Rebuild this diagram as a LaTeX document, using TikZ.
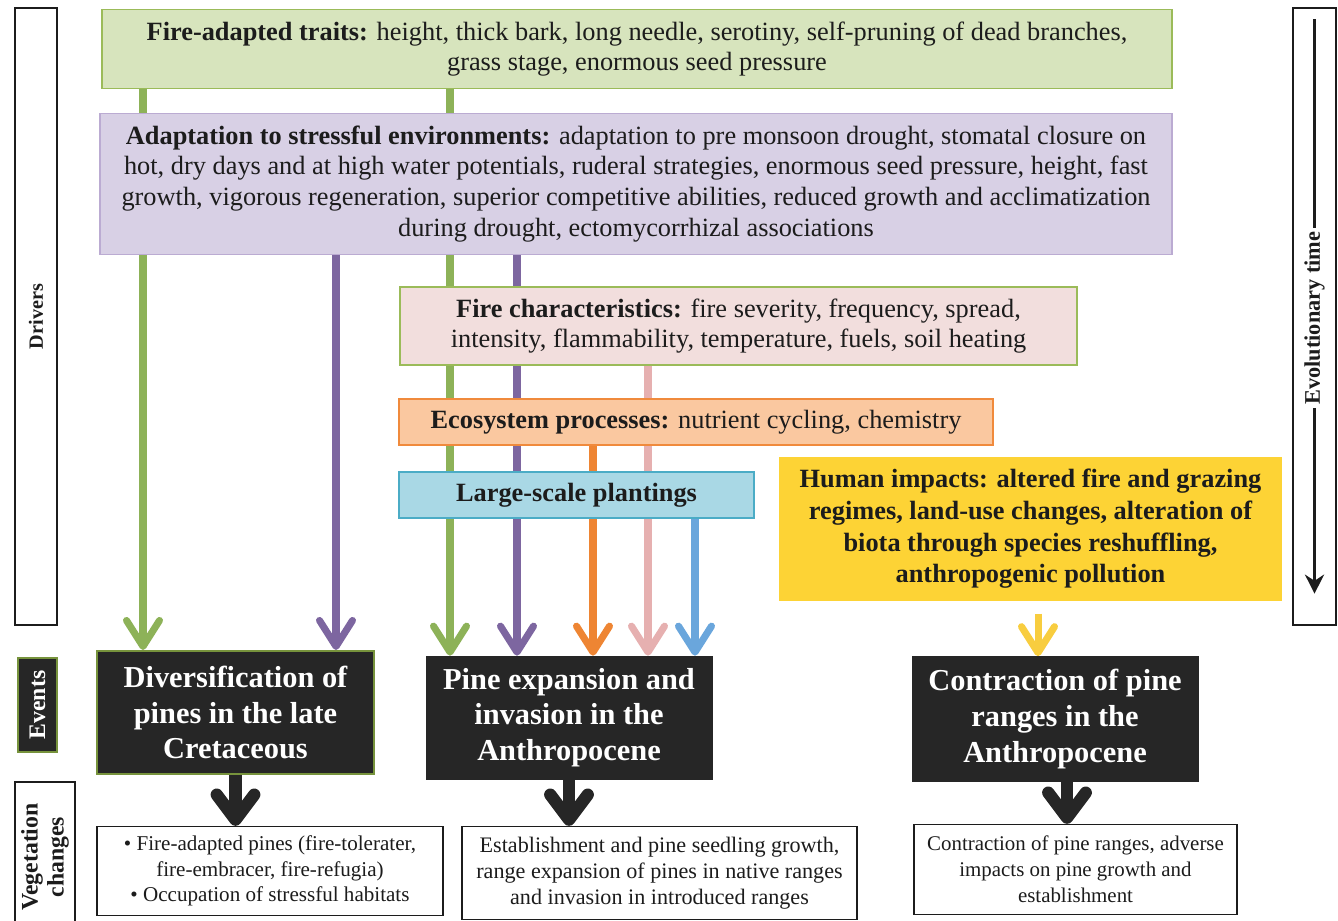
\documentclass[tikz,border=0pt]{standalone}
\usepackage{fontspec}
\setmainfont{Liberation Serif}
\usetikzlibrary{arrows.meta,backgrounds}

% colours
\definecolor{txtdark}{HTML}{1C1C1C}
\definecolor{evdark}{HTML}{262626}
\definecolor{evgreen}{HTML}{77933C}
\definecolor{fatfill}{HTML}{D7E4BD}
\definecolor{fatline}{HTML}{9BBB59}
\definecolor{adfill}{HTML}{D8D0E5}
\definecolor{adline}{HTML}{BBABD2}
\definecolor{fcfill}{HTML}{F2DEDD}
\definecolor{ecofill}{HTML}{FAC8A0}
\definecolor{ecoline}{HTML}{F08A3C}
\definecolor{plfill}{HTML}{A9D8E5}
\definecolor{plline}{HTML}{4BACC6}
\definecolor{humfill}{HTML}{FDD335}
\definecolor{garr}{HTML}{8DB258}
\definecolor{parr}{HTML}{7D66A0}
\definecolor{oarr}{HTML}{EE8533}
\definecolor{pkarr}{HTML}{E6B0B0}
\definecolor{barr}{HTML}{6AA6DC}
\definecolor{yarr}{HTML}{F8CD3F}

\begin{document}
\begin{tikzpicture}[x=0.02cm,y=-0.02cm,
  driver/.style={draw, line width=0.8pt, align=center, inner sep=0pt, text=txtdark,
    font=\fontsize{15}{17}\selectfont},
  event/.style={draw=evdark, fill=evdark, align=center, inner sep=0pt, text=white,
    font=\bfseries\fontsize{17.3}{20.3}\selectfont},
  veg/.style={draw=txtdark, line width=0.8pt, fill=white, align=center, inner sep=0pt,
    text=txtdark, font=\fontsize{12.6}{14.8}\selectfont},
  sidebox/.style={draw=txtdark, line width=0.8pt, rotate=90, align=center, inner sep=0pt,
    text=txtdark, font=\bfseries\fontsize{11.5}{13.5}\selectfont},
  colarrow/.style={line width=4pt, -{Straight Barb[length=0.52cm,width=0.66cm,round]}},
  blkarrow/.style={line width=7pt, evdark, -{Straight Barb[length=0.5cm,width=0.75cm,round]}}]
  \useasboundingbox (0,0) rectangle (1338,920);

  % side labels
  \node[sidebox, minimum width=12.34cm, minimum height=0.84cm] (drivers) at (36,316.5) {Drivers};
  \node[sidebox, draw=evgreen, fill=evdark, text=white, line width=1.2pt,
    minimum width=1.88cm, minimum height=0.78cm, font=\bfseries\fontsize{13.5}{15}\selectfont]
    (events) at (37.5,705) {Events};
  \node[sidebox, minimum width=3cm, minimum height=1.2cm, font=\bfseries\fontsize{13.5}{14.7}\selectfont]
    (vegch) at (45,857) {Vegetation\\ changes};
  \node[sidebox, minimum width=12.34cm, minimum height=0.86cm] (evobox) at (1314.5,316.5) {};

  % drivers
  \node[driver, draw=fatline, fill=fatfill, minimum width=21.4cm, minimum height=1.58cm] (fat) at (637,49)
    {\textbf{Fire-adapted traits:} height, thick bark, long needle, serotiny, self-pruning of dead branches,\\
     grass stage, enormous seed pressure};
  \node[driver, draw=adline, fill=adfill, minimum width=21.44cm, minimum height=2.82cm,
    font=\fontsize{15}{17.6}\selectfont] (adapt) at (636,184)
    {\textbf{Adaptation to stressful environments:} adaptation to pre monsoon drought, stomatal closure on\\
     hot, dry days and at high water potentials, ruderal strategies, enormous seed pressure, height, fast\\
     growth, vigorous regeneration, superior competitive abilities, reduced growth and acclimatization\\
     during drought, ectomycorrhizal associations};
  \node[driver, draw=fatline, fill=fcfill, minimum width=13.54cm, minimum height=1.56cm] (firec) at (738.5,326)
    {\textbf{Fire characteristics:} fire severity, frequency, spread,\\
     intensity, flammability, temperature, fuels, soil heating};
  \node[driver, draw=ecoline, fill=ecofill, minimum width=11.88cm, minimum height=0.92cm] (eco) at (696,422)
    {\textbf{Ecosystem processes:} nutrient cycling, chemistry};
  \node[driver, draw=plline, fill=plfill, minimum width=7.1cm, minimum height=0.92cm] (plant) at (576.5,495)
    {\textbf{Large-scale plantings}};
  \node[driver, draw=none, fill=humfill, minimum width=10.06cm, minimum height=2.88cm,
    font=\bfseries\fontsize{15}{18}\selectfont] (human) at (1030.5,529)
    {Human impacts: altered fire and grazing\\ regimes, land-use changes, alteration of\\
     biota through species reshuffling,\\ anthropogenic pollution};

  % events
  \node[event, draw=evgreen, line width=1.2pt, minimum width=5.54cm, minimum height=2.46cm] (div) at (235.5,712.5)
    {Diversification of\\ pines in the late\\ Cretaceous};
  \node[event, minimum width=5.72cm, minimum height=2.46cm] (pine) at (569,717.5)
    {Pine expansion and\\ invasion in the\\ Anthropocene};
  \node[event, minimum width=5.72cm, minimum height=2.5cm] (contr) at (1055,719)
    {Contraction of pine\\ ranges in the\\ Anthropocene};

  % vegetation changes
  \node[veg, minimum width=6.92cm, minimum height=1.78cm, font=\fontsize{12}{14.6}\selectfont] (veg1) at (270,871)
    {\textbullet{} Fire-adapted pines (fire-tolerater,\\ fire-embracer, fire-refugia)\\
     \textbullet{} Occupation of stressful habitats};
  \node[veg, minimum width=7.9cm, minimum height=1.86cm] (veg2) at (659.5,873)
    {Establishment and pine seedling growth,\\ range expansion of pines in native ranges\\
     and invasion in introduced ranges};
  \node[veg, minimum width=6.46cm, minimum height=1.8cm, font=\fontsize{11.9}{14.8}\selectfont] (veg3) at (1075.5,869.5)
    {Contraction of pine ranges, adverse\\ impacts on pine growth and\\ establishment};

  % evolutionary time arrow
  \coordinate (et1) at ([yshift=-0.24cm]evobox.east);
  \coordinate (et2) at ([yshift=0.64cm]evobox.west);
  \draw[line width=2.2pt, txtdark, -{Stealth[length=0.38cm,width=0.38cm]}] (et1) --
    node[pos=0.52, fill=white, rotate=90, inner sep=2pt, text=txtdark, font=\bfseries\fontsize{12.7}{14}\selectfont] (evlab)
    {Evolutionary time} (et2);

  % connector columns
  \coordinate (ga) at (143,0);
  \coordinate (pa) at (336,0);
  \coordinate (gb) at (450,0);
  \coordinate (pb) at (517,0);
  \coordinate (oc) at (593,0);
  \coordinate (pk) at (648,0);
  \coordinate (bl) at (695,0);
  \coordinate (ye) at (1038,0);
  \coordinate (kc) at (1067,0);

  \begin{scope}[on background layer]
    \draw[colarrow, garr] (ga |- fat.south) -- (ga |- div.north);
    \draw[colarrow, parr] (pa |- adapt.south) -- (pa |- div.north);
    \draw[colarrow, garr] (gb |- fat.south) -- (gb |- pine.north);
    \draw[colarrow, parr] (pb |- adapt.south) -- (pb |- pine.north);
    \draw[colarrow, oarr] (oc |- eco.south) -- (oc |- pine.north);
    \draw[colarrow, pkarr] (pk |- firec.south) -- (pk |- pine.north);
    \draw[colarrow, barr] (bl |- plant.south) -- (bl |- pine.north);
    \draw[colarrow, yarr, shorten <=0.24cm] (ye |- human.south) -- (ye |- contr.north);
  \end{scope}

  % black arrows
  \draw[blkarrow] (div.south) -- (div.south |- veg1.north);
  \draw[blkarrow] (pine.south) -- (pine.south |- veg2.north);
  \draw[blkarrow] (kc |- contr.south) -- (kc |- veg3.north);
\end{tikzpicture}
\end{document}
